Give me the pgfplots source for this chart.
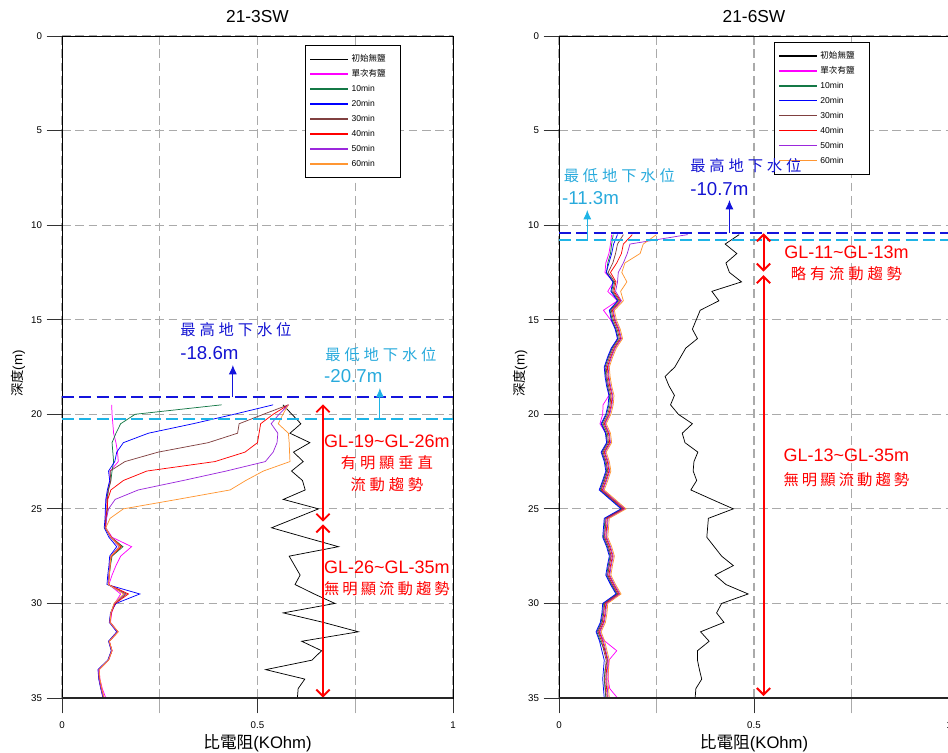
\documentclass[border=0pt]{standalone}
\usepackage{fontspec}
\setmainfont{Liberation Sans}
\newfontfamily\cjk{Noto Sans CJK TC}
\newfontfamily\cjksp[LetterSpace=25]{Noto Sans CJK TC}
\newfontfamily\cjkspb[LetterSpace=20]{Noto Sans CJK TC}
\usepackage{pgfplots}
\pgfplotsset{compat=1.18}
\usepackage{pgfplotstable}
\usetikzlibrary{arrows.meta}

\definecolor{cgreen}{RGB}{20,120,70}
\definecolor{cbrown}{RGB}{128,64,64}
\definecolor{cpurple}{RGB}{155,40,220}
\definecolor{corange}{RGB}{255,150,50}
\definecolor{cmag}{RGB}{255,0,255}
\definecolor{wlblue}{RGB}{20,20,220}
\definecolor{wlcyan}{RGB}{30,180,230}
\definecolor{txblue}{RGB}{20,20,210}
\definecolor{txcyan}{RGB}{40,170,220}
\definecolor{gridgray}{RGB}{170,170,170}

\pgfplotstableread{
d    bk    mg    gr    bl    br    rd    pu    or
19.5 0.565 0.127 0.408 0.540 0.579 0.579 0.579 0.579
20.0 0.588 0.128 0.187 0.440 0.515 0.540 0.555 0.565
20.5 0.611 0.130 0.150 0.335 0.453 0.508 0.535 0.553
21.0 0.583 0.132 0.138 0.221 0.449 0.504 0.552 0.579
21.5 0.634 0.138 0.128 0.157 0.374 0.500 0.550 0.581
22.0 0.592 0.142 0.130 0.140 0.246 0.468 0.540 0.582
22.5 0.617 0.144 0.132 0.135 0.161 0.391 0.520 0.583
23.0 0.587 0.123 0.128 0.119 0.123 0.217 0.420 0.515
23.5 0.615 0.122 0.125 0.122 0.125 0.157 0.310 0.470
24.0 0.622 0.118 0.118 0.116 0.119 0.125 0.195 0.430
24.5 0.566 0.113 0.115 0.112 0.116 0.117 0.136 0.295
25.0 0.656 0.112 0.116 0.111 0.115 0.116 0.119 0.157
25.5 0.596 0.112 0.113 0.110 0.112 0.113 0.114 0.123
26.0 0.536 0.112 0.110 0.108 0.110 0.111 0.112 0.112
26.5 0.621 0.128 0.126 0.120 0.124 0.126 0.124 0.125
27.0 0.707 0.178 0.156 0.140 0.150 0.152 0.146 0.148
27.5 0.581 0.150 0.128 0.122 0.125 0.126 0.124 0.125
28.0 0.595 0.138 0.124 0.120 0.122 0.123 0.122 0.123
28.5 0.609 0.128 0.121 0.117 0.120 0.121 0.120 0.121
29.0 0.596 0.120 0.118 0.115 0.118 0.119 0.118 0.119
29.5 0.645 0.150 0.160 0.199 0.165 0.170 0.160 0.158
30.0 0.698 0.135 0.134 0.138 0.135 0.136 0.134 0.133
30.5 0.566 0.127 0.125 0.124 0.125 0.126 0.125 0.125
31.0 0.668 0.124 0.122 0.121 0.122 0.123 0.122 0.123
31.5 0.758 0.143 0.142 0.140 0.142 0.143 0.142 0.144
32.0 0.613 0.121 0.120 0.119 0.120 0.121 0.120 0.121
32.5 0.664 0.128 0.127 0.126 0.127 0.128 0.127 0.128
33.0 0.639 0.119 0.118 0.117 0.118 0.119 0.118 0.119
33.5 0.521 0.095 0.093 0.092 0.093 0.094 0.093 0.095
34.0 0.621 0.097 0.095 0.094 0.095 0.096 0.095 0.097
34.5 0.604 0.103 0.100 0.099 0.100 0.101 0.100 0.102
35.0 0.602 0.112 0.106 0.105 0.106 0.107 0.106 0.108
}\tabL

\pgfplotstableread{
d    bk    mg    gr    bl    br    rd    pu    or
10.5 0.462 0.135 0.139 0.150 0.165 0.188 0.330 0.250
11.0 0.426 0.132 0.135 0.140 0.150 0.165 0.182 0.216
11.5 0.456 0.128 0.132 0.135 0.145 0.160 0.175 0.208
12.0 0.428 0.120 0.125 0.128 0.138 0.148 0.165 0.169
12.5 0.437 0.118 0.122 0.121 0.126 0.132 0.152 0.161
13.0 0.468 0.140 0.140 0.138 0.143 0.146 0.150 0.174
13.5 0.392 0.125 0.135 0.133 0.138 0.141 0.145 0.158
14.0 0.410 0.150 0.152 0.150 0.155 0.158 0.160 0.165
14.5 0.362 0.114 0.131 0.129 0.134 0.137 0.139 0.142
15.0 0.352 0.132 0.136 0.134 0.139 0.142 0.144 0.147
15.5 0.342 0.146 0.146 0.144 0.149 0.152 0.154 0.157
16.0 0.355 0.150 0.152 0.150 0.155 0.158 0.160 0.163
16.5 0.325 0.136 0.136 0.134 0.139 0.142 0.144 0.147
17.0 0.311 0.126 0.126 0.124 0.129 0.132 0.134 0.137
17.5 0.297 0.118 0.118 0.116 0.121 0.124 0.126 0.129
18.0 0.272 0.121 0.120 0.118 0.123 0.126 0.128 0.131
18.5 0.282 0.125 0.124 0.122 0.127 0.130 0.132 0.135
19.0 0.296 0.128 0.130 0.128 0.133 0.136 0.138 0.141
19.5 0.286 0.113 0.128 0.126 0.131 0.134 0.136 0.139
20.0 0.306 0.112 0.122 0.120 0.125 0.128 0.130 0.133
20.5 0.342 0.105 0.110 0.108 0.113 0.116 0.118 0.121
21.0 0.316 0.120 0.121 0.119 0.124 0.127 0.129 0.132
21.5 0.323 0.124 0.124 0.122 0.127 0.130 0.132 0.135
22.0 0.356 0.110 0.110 0.108 0.113 0.116 0.118 0.121
22.5 0.346 0.120 0.118 0.116 0.121 0.124 0.126 0.129
23.0 0.344 0.124 0.122 0.120 0.125 0.128 0.130 0.133
23.5 0.353 0.116 0.114 0.112 0.117 0.120 0.122 0.125
24.0 0.338 0.107 0.105 0.103 0.108 0.111 0.113 0.116
24.5 0.392 0.135 0.133 0.131 0.136 0.139 0.141 0.144
25.0 0.447 0.162 0.161 0.159 0.164 0.167 0.169 0.172
25.5 0.383 0.120 0.118 0.116 0.121 0.124 0.126 0.129
26.0 0.381 0.118 0.116 0.114 0.119 0.122 0.124 0.127
26.5 0.379 0.116 0.114 0.112 0.117 0.120 0.122 0.125
27.0 0.398 0.126 0.124 0.122 0.127 0.130 0.132 0.135
27.5 0.417 0.133 0.131 0.129 0.134 0.137 0.139 0.142
28.0 0.447 0.128 0.126 0.124 0.129 0.132 0.134 0.137
28.5 0.400 0.124 0.122 0.120 0.125 0.128 0.130 0.133
29.0 0.428 0.136 0.134 0.132 0.137 0.140 0.142 0.145
29.5 0.485 0.150 0.148 0.146 0.151 0.154 0.156 0.159
30.0 0.417 0.116 0.114 0.112 0.117 0.120 0.122 0.125
30.5 0.404 0.114 0.112 0.110 0.115 0.118 0.120 0.123
31.0 0.423 0.110 0.108 0.106 0.111 0.114 0.116 0.119
31.5 0.363 0.099 0.097 0.095 0.100 0.103 0.105 0.108
32.0 0.385 0.118 0.106 0.104 0.109 0.112 0.114 0.117
32.5 0.355 0.148 0.118 0.110 0.115 0.118 0.120 0.123
33.0 0.355 0.128 0.124 0.116 0.121 0.124 0.126 0.129
33.5 0.360 0.126 0.118 0.114 0.119 0.122 0.124 0.127
34.0 0.366 0.126 0.116 0.112 0.117 0.120 0.122 0.125
34.5 0.351 0.130 0.118 0.114 0.119 0.122 0.124 0.127
35.0 0.349 0.150 0.120 0.116 0.121 0.124 0.126 0.129
}\tabR

\pgfplotsset{
  panel/.style={
    scale only axis, height=496.5pt,
    xmin=0, xmax=1, ymin=0, ymax=35, y dir=reverse,
    clip=false,
    xtick={0,0.5,1}, xticklabels={0,0.5,1},
    minor xtick={0.25,0.75},
    ytick={0,5,...,35},
    tick align=outside, tick pos=left,
    major tick length=11.5pt, minor tick length=11.5pt,
    major tick style={black!80, line width=0.6pt},
    minor tick style={gridgray, line width=0.8pt},
    grid=both,
    major grid style={gridgray, dash pattern=on 6.5pt off 3.5pt, line width=0.8pt},
    minor grid style={gridgray, dash pattern=on 6.5pt off 3.5pt, line width=0.8pt},
    axis line style={black, line width=0.7pt},
    tick label style={font=\fontsize{7.3}{8}\selectfont},
    xticklabel style={yshift=-3pt},
    /pgf/number format/assume math mode=true,
    every axis title/.style={at={(axis description cs:0.5,1)}, anchor=base, yshift=10pt, font=\fontsize{13}{14}\selectfont},
    every axis x label/.style={at={(axis description cs:0.5,0)}, anchor=base, yshift=-37.5pt, font=\fontsize{12.5}{13}\selectfont},
    xlabel={{\cjk 比電阻}(KOhm)},
    ylabel={{\cjk 深度}(m)},
    legend cell align=left,
    legend style={anchor=north west, draw=black, fill=white, line width=0.6pt,
      font=\fontsize{6.4}{7}\selectfont, inner xsep=3pt, inner ysep=5pt,
      row sep=0.8pt,
      nodes={inner sep=2pt, text height=5.2pt, text depth=1.2pt}},
    legend image code/.code={\draw[##1, line width=1.1pt] (0pt,0pt) -- (28.5pt,0pt);},
    every axis plot/.append style={line width=0.55pt},
  }
}

\newcommand{\lgent}[1]{\makebox[32pt][l]{#1}}

\begin{document}
\begin{tikzpicture}
\begin{axis}[panel, width=293.25pt, at={(46.5pt,40.5pt)}, anchor=south west,
  title={21-3SW},
  every axis y label/.style={at={(axis description cs:0,0.49)}, rotate=90, anchor=center, yshift=33pt, font=\fontsize{10}{11}\selectfont},
  legend style={at={(axis description cs:0.6215,0.986)}}]
\addplot[black] table[x=bk,y=d]{\tabL};
\addplot[cmag] table[x=mg,y=d]{\tabL};
\addplot[cgreen] table[x=gr,y=d]{\tabL};
\addplot[blue] table[x=bl,y=d]{\tabL};
\addplot[cbrown] table[x=br,y=d]{\tabL};
\addplot[red] table[x=rd,y=d]{\tabL};
\addplot[cpurple] table[x=pu,y=d]{\tabL};
\addplot[corange] table[x=or,y=d]{\tabL};
\legend{\lgent{\cjk 初始無鹽},\lgent{\cjk 單次有鹽},\lgent{10min},\lgent{20min},\lgent{30min},\lgent{40min},\lgent{50min},\lgent{60min}}
% water levels
\draw[wlblue, line width=1.5pt, dash pattern=on 9pt off 4pt] (axis cs:0,19.09) -- (axis cs:1,19.09);
\draw[wlcyan, line width=1.5pt, dash pattern=on 9pt off 4pt] (axis cs:0,20.25) -- (axis cs:1,20.25);
\draw[wlblue, line width=0.7pt, -{Latex[length=7pt,width=6pt]}] (axis cs:0.437,19.09) -- (axis cs:0.437,17.39);
\draw[wlcyan, line width=0.7pt, -{Latex[length=7pt,width=6pt]}] (axis cs:0.813,20.25) -- (axis cs:0.813,18.61);
\node[anchor=base west, inner sep=0, text=txblue, font=\cjksp\fontsize{11.5}{12}\selectfont] at (axis cs:0.302,15.86) {最高地下水位};
\node[anchor=base west, inner sep=0, text=txblue, font=\fontsize{14}{15}\selectfont] at (axis cs:0.302,17.08) {-18.6m};
\node[anchor=base west, inner sep=0, text=txcyan, font=\cjksp\fontsize{11.5}{12}\selectfont] at (axis cs:0.673,17.16) {最低地下水位};
\node[anchor=base west, inner sep=0, text=txcyan, font=\fontsize{14}{15}\selectfont] at (axis cs:0.670,18.33) {-20.7m};
% red ranges
\draw[red, line width=1.4pt, {Straight Barb[length=5pt,width=10pt]}-{Straight Barb[length=5pt,width=10pt]}] (axis cs:0.6675,19.47) -- (axis cs:0.6675,25.68);
\draw[red, line width=1.4pt, {Straight Barb[length=5pt,width=10pt]}-{Straight Barb[length=5pt,width=10pt]}] (axis cs:0.6675,25.82) -- (axis cs:0.6675,34.98);
\node[anchor=base, inner sep=0, text=red, font=\fontsize{13.5}{14}\selectfont] at (axis cs:0.831,21.75) {GL-19\textasciitilde GL-26m};
\node[anchor=base, inner sep=0, text=red, font=\cjksp\fontsize{11.5}{12}\selectfont] at (axis cs:0.831,22.85) {有明顯垂直};
\node[anchor=base, inner sep=0, text=red, font=\cjksp\fontsize{11.5}{12}\selectfont] at (axis cs:0.831,24.02) {流動趨勢};
\node[anchor=base, inner sep=0, text=red, font=\fontsize{13.5}{14}\selectfont] at (axis cs:0.831,28.41) {GL-26\textasciitilde GL-35m};
\node[anchor=base, inner sep=0, text=red, font=\cjkspb\fontsize{11.5}{12}\selectfont] at (axis cs:0.831,29.52) {無明顯流動趨勢};
\draw[black!85, line width=2pt] (axis cs:0,35) -- (axis cs:1,35);
\end{axis}

\begin{axis}[panel, width=292.5pt, at={(419.25pt,40.5pt)}, anchor=south west,
  title={21-6SW},
  every axis y label/.style={at={(axis description cs:0,0.49)}, rotate=90, anchor=center, yshift=29pt, font=\fontsize{10}{11}\selectfont},
  legend style={at={(axis description cs:0.551,0.991)}}]
\addplot[black] table[x=bk,y=d]{\tabR};
\addplot[cmag] table[x=mg,y=d]{\tabR};
\addplot[cgreen] table[x=gr,y=d]{\tabR};
\addplot[blue] table[x=bl,y=d]{\tabR};
\addplot[cbrown] table[x=br,y=d]{\tabR};
\addplot[red] table[x=rd,y=d]{\tabR};
\addplot[cpurple] table[x=pu,y=d]{\tabR};
\addplot[corange] table[x=or,y=d]{\tabR};
\legend{\lgent{\cjk 初始無鹽},\lgent{\cjk 單次有鹽},\lgent{10min},\lgent{20min},\lgent{30min},\lgent{40min},\lgent{50min},\lgent{60min}}
\draw[wlblue, line width=1.5pt, dash pattern=on 9pt off 4pt] (axis cs:0,10.40) -- (axis cs:1,10.40);
\draw[wlcyan, line width=1.5pt, dash pattern=on 9pt off 4pt] (axis cs:0,10.79) -- (axis cs:1,10.79);
\draw[wlblue, line width=0.7pt, -{Latex[length=7pt,width=6pt]}] (axis cs:0.437,10.40) -- (axis cs:0.437,8.67);
\draw[wlcyan, line width=0.7pt, -{Latex[length=7pt,width=6pt]}] (axis cs:0.0726,10.79) -- (axis cs:0.0726,9.2);
\coordinate (lowR) at (axis cs:0.0115,7.69);
\coordinate (lowRv) at (axis cs:0.0075,8.90);
\coordinate (hiR) at (axis cs:0.336,7.16);
\coordinate (hiRv) at (axis cs:0.336,8.41);
\draw[red, line width=1.5pt, {Straight Barb[length=5pt,width=10pt]}-{Straight Barb[length=5pt,width=10pt]}] (axis cs:0.5245,10.43) -- (axis cs:0.5245,12.46);
\draw[red, line width=1.5pt, {Straight Barb[length=5pt,width=10pt]}-{Straight Barb[length=5pt,width=10pt]}] (axis cs:0.5245,12.64) -- (axis cs:0.5245,34.9);
\node[anchor=base, inner sep=0, text=red, font=\fontsize{13.5}{14}\selectfont] at (axis cs:0.737,11.76) {GL-11\textasciitilde GL-13m};
\node[anchor=base, inner sep=0, text=red, font=\cjksp\fontsize{11.5}{12}\selectfont] at (axis cs:0.737,12.90) {略有流動趨勢};
\node[anchor=base, inner sep=0, text=red, font=\fontsize{13.5}{14}\selectfont] at (axis cs:0.737,22.52) {GL-13\textasciitilde GL-35m};
\node[anchor=base, inner sep=0, text=red, font=\cjkspb\fontsize{11.5}{12}\selectfont] at (axis cs:0.737,23.74) {無明顯流動趨勢};
\draw[black!85, line width=2pt] (axis cs:0,35) -- (axis cs:1,35);
\end{axis}
\node[anchor=base west, inner sep=0, text=txcyan, font=\cjksp\fontsize{11.5}{12}\selectfont] at (lowR) {最低地下水位};
\node[anchor=base west, inner sep=0, text=txcyan, font=\fontsize{14}{15}\selectfont] at (lowRv) {-11.3m};
\node[anchor=base west, inner sep=0, text=txblue, font=\cjksp\fontsize{11.5}{12}\selectfont] at (hiR) {最高地下水位};
\node[anchor=base west, inner sep=0, text=txblue, font=\fontsize{14}{15}\selectfont] at (hiRv) {-10.7m};
\pgfresetboundingbox
\path[use as bounding box] (0,0) rectangle (711pt,564pt);
\end{tikzpicture}
\end{document}
